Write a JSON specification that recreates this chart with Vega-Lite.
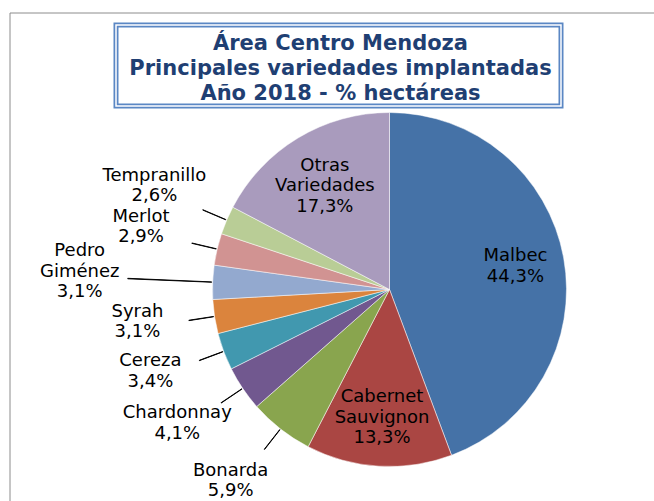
{
  "$schema": "https://vega.github.io/schema/vega-lite/v6.json",
  "padding": {"left": 9, "top": 12, "right": 0, "bottom": 0},
  "background": "white",
  "config": {"view": {"stroke": null}, "font": "DejaVu Sans"},
  "bounds": "flush",
  "spacing": 0,
  "vconcat": [
    {
      "width": 445,
      "height": 81,
      "view": {"stroke": "#5B87C4", "strokeWidth": 5},
      "data": {"values": [{"title": "Área Centro Mendoza\nPrincipales variedades implantadas\nAño 2018 - % hectáreas"}]},
      "layer": [
        {"mark": {"type": "rect", "filled": false, "stroke": "white", "strokeWidth": 1.5}, "encoding": {}},
        {
          "mark": {"type": "text", "lineBreak": "\n", "lineHeight": 25, "font": "DejaVu Sans", "fontWeight": "bold", "fontSize": 21, "fill": "#1F3F73", "baseline": "alphabetic", "align": "center", "dy": -16, "dx": 2},
          "encoding": {"text": {"field": "title"}}
        }
      ]
    },
    {
      "width": 547,
      "height": 367,
      "data": {"values": [
        {"name": "Malbec", "value": 44.3},
        {"name": "Cabernet Sauvignon", "value": 13.3},
        {"name": "Bonarda", "value": 5.9},
        {"name": "Chardonnay", "value": 4.1},
        {"name": "Cereza", "value": 3.4},
        {"name": "Syrah", "value": 3.1},
        {"name": "Pedro Giménez", "value": 3.1},
        {"name": "Merlot", "value": 2.9},
        {"name": "Tempranillo", "value": 2.6},
        {"name": "Otras Variedades", "value": 17.3}
      ]},
      "transform": [
        {"window": [{"op": "sum", "field": "value", "as": "end"}], "frame": [null, 0]},
        {"calculate": "datum.end - datum.value", "as": "start"},
        {"calculate": "datum.end - datum.value / 2", "as": "mid"},
        {"calculate": "datum.mid + 0.03", "as": "mid2"},
        {"calculate": "indexof(datum.name, ' ') >= 0", "as": "threeLines"},
        {"calculate": "datum.name + ' ' + replace(format(datum.value, '.1f'), '.', ',') + '%'", "as": "label"}
      ],
      "layer": [
        {
          "mark": {"type": "point", "opacity": 0, "size": 0},
          "encoding": {
            "x": {"field": "value", "type": "quantitative", "scale": {"range": [-106.5, 900]},
                  "axis": {"orient": "top", "offset": 93.5, "labels": false, "ticks": false, "grid": false, "title": null, "domainColor": "#8c8c8c", "domainWidth": 1}},
            "y": {"field": "value", "type": "quantitative", "scale": {"range": [700, -93.5]},
                  "axis": {"orient": "left", "offset": 106.5, "labels": false, "ticks": false, "grid": false, "title": null, "domainColor": "#8c8c8c", "domainWidth": 1}}
          }
        },
        {
          "mark": {"type": "arc", "radius": 177, "stroke": "white", "strokeWidth": 0.5},
          "encoding": {
            "theta": {"field": "start", "type": "quantitative", "stack": null, "scale": {"domain": [0, 100], "range": [0, 6.283185307]}},
            "theta2": {"field": "end"},
            "color": {
              "field": "name", "type": "nominal", "legend": null,
              "scale": {
                "domain": ["Malbec", "Cabernet Sauvignon", "Bonarda", "Chardonnay", "Cereza", "Syrah", "Pedro Giménez", "Merlot", "Tempranillo", "Otras Variedades"],
                "range": ["#4572A7", "#AA4643", "#89A54E", "#71588F", "#4198AF", "#DB843D", "#93A9CF", "#D19392", "#B9CD96", "#A99BBD"]
              }
            }
          }
        },
        {
          "transform": [{"filter": "datum.value < 10 && !datum.threeLines"}],
          "mark": {"type": "arc", "radius": 203, "radius2": 178, "fill": "black", "stroke": "black", "strokeWidth": 0.9},
          "encoding": {
            "theta": {"field": "mid", "type": "quantitative", "stack": null, "scale": {"domain": [0, 100], "range": [0, 6.283185307]}},
            "theta2": {"field": "mid2"}
          }
        },
        {
          "transform": [{"filter": "datum.value < 10 && datum.threeLines"}],
          "mark": {"type": "arc", "radius": 262, "radius2": 178, "fill": "black", "stroke": "black", "strokeWidth": 0.9},
          "encoding": {
            "theta": {"field": "mid", "type": "quantitative", "stack": null, "scale": {"domain": [0, 100], "range": [0, 6.283185307]}},
            "theta2": {"field": "mid2"}
          }
        },
        {
          "transform": [{"filter": "datum.value < 10 && !datum.threeLines"}],
          "mark": {"type": "text", "radius": 250, "dx": -5, "dy": -16, "align": "center", "baseline": "middle", "lineBreak": " ", "lineHeight": 20.5, "fontSize": 18, "font": "DejaVu Sans", "fill": "black"},
          "encoding": {
            "theta": {"field": "mid", "type": "quantitative", "stack": null, "scale": {"domain": [0, 100], "range": [0, 6.283185307]}},
            "text": {"field": "label"}
          }
        },
        {
          "transform": [{"filter": "datum.value < 10 && datum.threeLines"}],
          "mark": {"type": "text", "radius": 270, "dx": -40, "dy": -27, "align": "center", "baseline": "middle", "lineBreak": " ", "lineHeight": 20.5, "fontSize": 18, "font": "DejaVu Sans", "fill": "black"},
          "encoding": {
            "theta": {"field": "mid", "type": "quantitative", "stack": null, "scale": {"domain": [0, 100], "range": [0, 6.283185307]}},
            "text": {"field": "label"}
          }
        },
        {
          "transform": [{"filter": "datum.value >= 10 && !datum.threeLines"}],
          "mark": {"type": "text", "radius": 128, "dy": -10.25, "align": "center", "baseline": "middle", "lineBreak": " ", "lineHeight": 20.5, "fontSize": 18, "font": "DejaVu Sans", "fill": "black"},
          "encoding": {
            "theta": {"field": "mid", "type": "quantitative", "stack": null, "scale": {"domain": [0, 100], "range": [0, 6.283185307]}},
            "text": {"field": "label"}
          }
        },
        {
          "transform": [{"filter": "datum.value >= 10 && datum.threeLines"}],
          "mark": {"type": "text", "radius": 125, "dy": -17, "align": "center", "baseline": "middle", "lineBreak": " ", "lineHeight": 20.5, "fontSize": 18, "font": "DejaVu Sans", "fill": "black"},
          "encoding": {
            "theta": {"field": "mid", "type": "quantitative", "stack": null, "scale": {"domain": [0, 100], "range": [0, 6.283185307]}},
            "text": {"field": "label"}
          }
        }
      ]
    }
  ]
}
